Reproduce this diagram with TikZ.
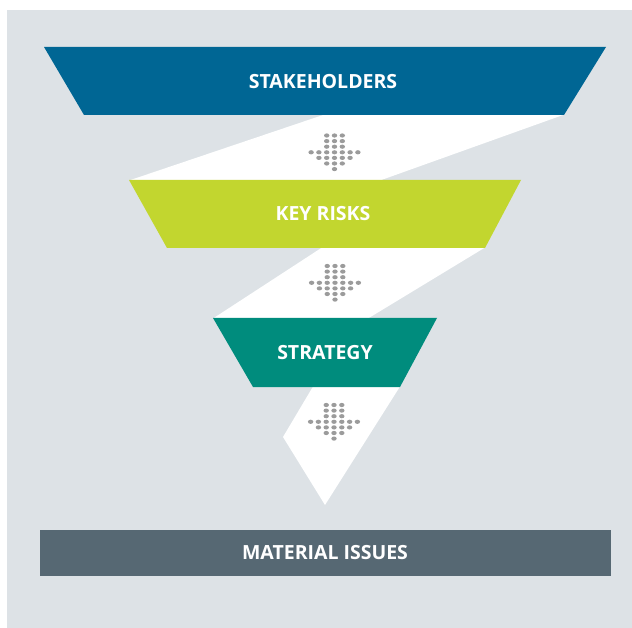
\documentclass[tikz,border=0pt]{standalone}
\usepackage{fontspec}
\setmainfont{Open Sans}
\definecolor{bg}{HTML}{DDE2E6}
\definecolor{cblue}{HTML}{006694}
\definecolor{clime}{HTML}{C2D62F}
\definecolor{cteal}{HTML}{008C7D}
\definecolor{cslate}{HTML}{566873}
\definecolor{cdot}{HTML}{9B9B9B}
\tikzset{
  lbl/.style={text=white,font=\fontsize{19.5}{21}\selectfont\bfseries,inner sep=0pt},
  band/.style={fill=white},
  dotarrow/.pic={
    \foreach \c/\r in {-1/0,0/0,1/0,-1/1,0/1,1/1,-1/2,0/2,1/2,
                       -3/3,-2/3,-1/3,0/3,1/3,2/3,3/3,
                       -2/4,-1/4,0/4,1/4,2/4,-1/5,0/5,1/5,0/6}
      \fill[cdot] (\c*7.8,\r*5.6) ellipse [x radius=2.7,y radius=2.1];
  }
}
\begin{document}
\begin{tikzpicture}[x=1pt,y=-1pt]
\useasboundingbox (0,0) rectangle (632,628);
\fill[bg] (7,10) rectangle (632,628);
% white bands
\fill[band] (323,115) -- (563,115) -- (380,180.5) -- (129,180.5) -- cycle;
\fill[band] (322,247.5) -- (485,247.5) -- (368,318.5) -- (213,318.5) -- cycle;
\fill[band] (313,386.5) -- (400,386.5) -- (325,505) -- (283,437) -- cycle;
% trapezoids
\fill[cblue] (44,47) -- (606,47) -- (564,115) -- (84,115) -- cycle;
\fill[clime] (129,180) -- (521,180) -- (485,248) -- (167,248) -- cycle;
\fill[cteal] (213,318) -- (437,318) -- (400,387) -- (253,387) -- cycle;
\fill[cslate] (40,530) rectangle (611,576);
% labels
\node[lbl] (stake) at (323,81.5) {STAKEHOLDERS};
\node[lbl] (risks) at (323,214) {KEY RISKS};
\node[lbl] (strat) at (325,352.5) {STRATEGY};
\node[lbl] (mat) at (325,553) {MATERIAL ISSUES};
% dotted arrows
\pic at (334.5,135.5) {dotarrow};
\pic at (335,266) {dotarrow};
\pic at (334,405) {dotarrow};
\end{tikzpicture}
\end{document}
